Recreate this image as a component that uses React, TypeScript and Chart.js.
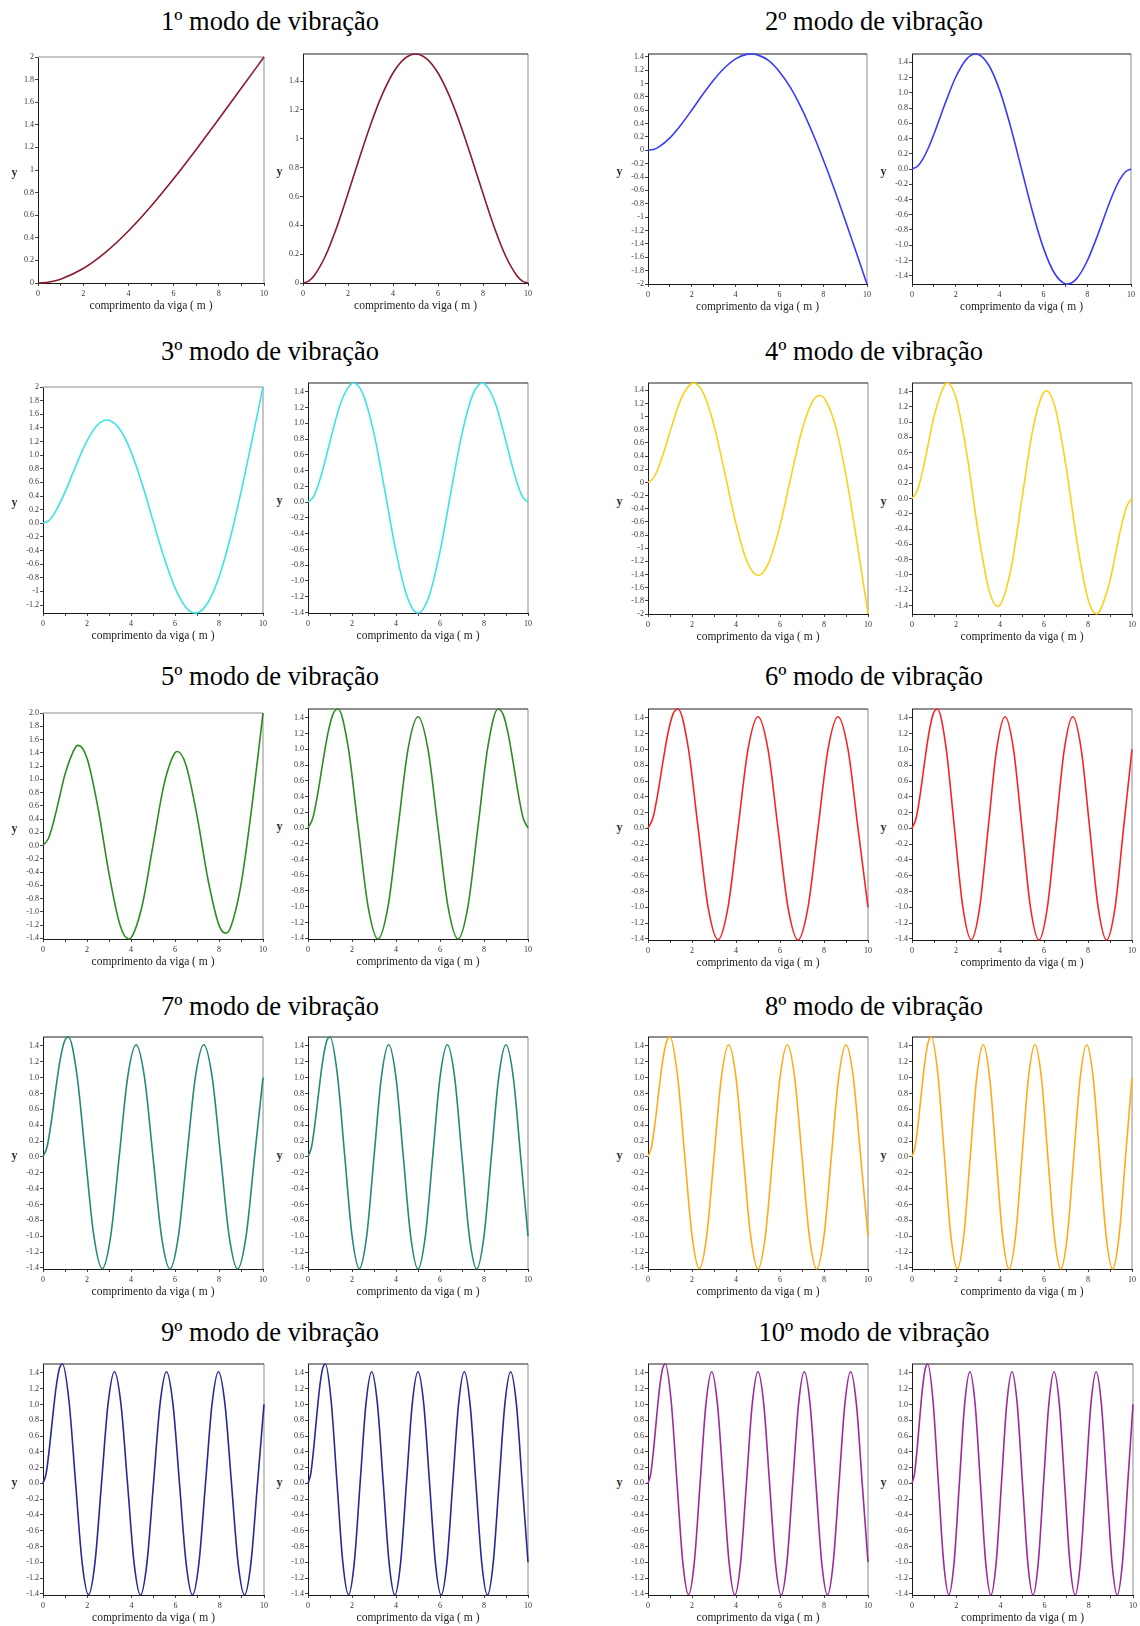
import React, { useEffect, useRef } from "react";
import { Chart, registerables } from "chart.js";

Chart.register(...registerables);

const SERIF = '"Liberation Serif", "Times New Roman", Times, serif';

// ---------------- data ----------------
const modeTitles = [
  "1º modo de vibração",
  "2º modo de vibração",
  "3º modo de vibração",
  "4º modo de vibração",
  "5º modo de vibração",
  "6º modo de vibração",
  "7º modo de vibração",
  "8º modo de vibração",
  "9º modo de vibração",
  "10º modo de vibração",
];

const xAxisTitle = "comprimento da viga ( m )";
const yAxisTitle = "y";

const xTickValues = [0, 1, 2, 3, 4, 5, 6, 7, 8, 9, 10];
const xTickLabels = ["0", "", "2", "", "4", "", "6", "", "8", "", "10"];

const yLabelsPlain0to2 = ["0", "0.2", "0.4", "0.6", "0.8", "1", "1.2", "1.4", "1.6", "1.8", "2"];
const yLabelsPlain0to14 = ["0", "0.2", "0.4", "0.6", "0.8", "1", "1.2", "1.4"];
const yLabelsPlainM2to14 = ["-2", "-1.8", "-1.6", "-1.4", "-1.2", "-1", "-0.8", "-0.6", "-0.4", "-0.2", "0", "0.2", "0.4", "0.6", "0.8", "1", "1.2", "1.4"];
const yLabelsFixedM14to14 = ["-1.4", "-1.2", "-1.0", "-0.8", "-0.6", "-0.4", "-0.2", "0.0", "0.2", "0.4", "0.6", "0.8", "1.0", "1.2", "1.4"];
const yLabelsMixedM12to2 = ["-1.2", "-1", "-0.8", "-0.6", "-0.4", "-0.2", "0.0", "0.2", "0.4", "0.6", "0.8", "1.0", "1.2", "1.4", "1.6", "1.8", "2"];
const yLabelsFixedM14to2 = ["-1.4", "-1.2", "-1.0", "-0.8", "-0.6", "-0.4", "-0.2", "0.0", "0.2", "0.4", "0.6", "0.8", "1.0", "1.2", "1.4", "1.6", "1.8", "2.0"];

// mode 1
const mode1LeftX = [0, 0.5, 1, 2, 3, 4, 5, 6, 7, 8, 9, 10];
const mode1LeftY = [0, 0.009, 0.034, 0.128, 0.273, 0.46, 0.679, 0.922, 1.182, 1.451, 1.725, 2.0];
const mode1RightX = [0, 0.25, 0.5, 1, 1.5, 2, 2.5, 3, 3.5, 4, 4.5, 5, 5.5, 6, 6.5, 7, 7.5, 8, 8.5, 9, 9.5, 9.75, 10];
const mode1RightY = [0, 0.013, 0.052, 0.189, 0.387, 0.62, 0.863, 1.096, 1.299, 1.456, 1.554, 1.588, 1.554, 1.456, 1.299, 1.096, 0.863, 0.62, 0.387, 0.189, 0.052, 0.013, 0];

// mode 2
const mode2LeftX = [0, 0.25, 0.5, 1, 1.5, 2, 2.5, 3, 3.5, 4, 4.5, 4.75, 5, 5.5, 6, 6.5, 7, 7.5, 8, 8.5, 9, 9.5, 9.75, 10];
const mode2LeftY = [0, 0.013, 0.051, 0.185, 0.378, 0.602, 0.834, 1.052, 1.235, 1.367, 1.434, 1.44, 1.427, 1.343, 1.175, 0.94, 0.633, 0.269, -0.137, -0.574, -1.043, -1.519, -1.761, -2.0];
const mode2RightX = [0, 0.25, 0.5, 0.75, 1, 1.5, 2, 2.5, 2.9, 3, 3.5, 4, 4.5, 5, 5.5, 6, 6.5, 7, 7.1, 7.5, 8, 8.5, 9, 9.25, 9.5, 9.75, 10];
const mode2RightY = [0, 0.036, 0.134, 0.279, 0.456, 0.849, 1.207, 1.445, 1.509, 1.506, 1.365, 1.035, 0.557, 0, -0.557, -1.035, -1.365, -1.506, -1.509, -1.445, -1.207, -0.849, -0.456, -0.279, -0.134, -0.036, 0];

// mode 3
const mode3LeftX = [0, 0.25, 0.5, 1, 1.5, 2, 2.5, 2.9, 3, 3.5, 4, 4.5, 5, 5.5, 6, 6.5, 6.9, 7, 7.5, 8, 8.5, 9, 9.5, 9.75, 10];
const mode3LeftY = [0, 0.036, 0.134, 0.456, 0.85, 1.209, 1.449, 1.516, 1.512, 1.376, 1.052, 0.583, 0.039, -0.499, -0.948, -1.236, -1.317, -1.315, -1.163, -0.79, -0.231, 0.458, 1.218, 1.608, 2.0];
const mode3RightX = [0, 0.25, 0.5, 0.75, 1, 1.5, 2, 2.07, 2.5, 3, 3.5, 4, 4.5, 5, 5.5, 6, 6.5, 7, 7.5, 7.93, 8, 8.5, 9, 9.25, 9.5, 9.75, 10];
const mode3RightY = [0, 0.069, 0.247, 0.494, 0.77, 1.268, 1.508, 1.512, 1.371, 0.869, 0.133, -0.628, -1.196, -1.406, -1.196, -0.628, 0.133, 0.869, 1.371, 1.512, 1.508, 1.268, 0.77, 0.494, 0.247, 0.069, 0];

// mode 4
const mode4LeftX = [0, 0.25, 0.5, 0.75, 1, 1.5, 2, 2.06, 2.5, 3, 3.5, 4, 4.5, 5, 5.5, 6, 6.5, 7, 7.5, 7.8, 8, 8.5, 9, 9.5, 9.75, 10];
const mode4LeftY = [0, 0.069, 0.247, 0.494, 0.77, 1.268, 1.508, 1.512, 1.371, 0.868, 0.132, -0.631, -1.201, -1.414, -1.211, -0.653, 0.09, 0.795, 1.243, 1.322, 1.286, 0.883, 0.104, -0.908, -1.449, -2.0];
const mode4RightX = [0, 0.25, 0.5, 0.75, 1, 1.5, 1.6, 2, 2.5, 3, 3.5, 3.89, 4, 4.5, 5, 5.5, 6, 6.11, 6.5, 7, 7.5, 8, 8.4, 8.5, 9, 9.25, 9.5, 9.75, 10];
const mode4RightY = [0, 0.11, 0.382, 0.729, 1.074, 1.495, 1.512, 1.319, 0.57, -0.423, -1.199, -1.41, -1.394, -0.917, 0, 0.917, 1.394, 1.41, 1.199, 0.423, -0.57, -1.319, -1.512, -1.495, -1.074, -0.729, -0.382, -0.11, 0];

// mode 5
const mode5LeftX = [0, 0.25, 0.5, 0.75, 1, 1.5, 1.6, 2, 2.5, 3, 3.5, 3.89, 4, 4.5, 5, 5.5, 6, 6.11, 6.5, 7, 7.5, 8, 8.3, 8.5, 9, 9.5, 9.75, 10];
const mode5LeftY = [0, 0.11, 0.382, 0.729, 1.075, 1.495, 1.512, 1.319, 0.57, -0.423, -1.199, -1.41, -1.393, -0.916, 0.002, 0.92, 1.4, 1.418, 1.213, 0.451, -0.512, -1.201, -1.322, -1.256, -0.589, 0.603, 1.293, 2.0];
const mode5RightX = [0, 0.227, 0.455, 0.682, 0.909, 1.136, 1.364, 1.818, 2.273, 2.727, 3.182, 3.636, 4.091, 4.545, 5, 5.455, 5.909, 6.364, 6.818, 7.273, 7.727, 8.182, 8.636, 8.864, 9.091, 9.318, 9.545, 9.773, 10];
const mode5RightY = [0, 0.134, 0.456, 0.849, 1.208, 1.447, 1.512, 1.043, 0.02, -0.991, -1.41, -1, 0, 1, 1.414, 1, 0, -1, -1.41, -0.991, 0.02, 1.043, 1.512, 1.447, 1.208, 0.849, 0.456, 0.134, 0];

// modes 6-10: sample positions along the beam and the wave values at them
const grid22X = [0, 0.227, 0.455, 0.682, 0.909, 1.136, 1.364, 1.818, 2.273, 2.727, 3.182, 3.636, 4.091, 4.545, 5, 5.455, 5.909, 6.364, 6.818, 7.273, 7.727, 8.182, 8.636, 9.091, 9.545, 10];
const grid26X = [0, 0.192, 0.385, 0.577, 0.769, 0.962, 1.154, 1.538, 1.923, 2.308, 2.692, 3.077, 3.462, 3.846, 4.231, 4.615, 5, 5.385, 5.769, 6.154, 6.538, 6.923, 7.308, 7.692, 8.077, 8.462, 8.846, 9.231, 9.615, 10];
const grid30X = [0, 0.167, 0.333, 0.5, 0.667, 0.833, 1, 1.333, 1.667, 2, 2.333, 2.667, 3, 3.333, 3.667, 4, 4.333, 4.667, 5, 5.333, 5.667, 6, 6.333, 6.667, 7, 7.333, 7.667, 8, 8.333, 8.667, 9, 9.333, 9.667, 10];
const grid34X = [0, 0.147, 0.294, 0.441, 0.588, 0.735, 0.882, 1.176, 1.471, 1.765, 2.059, 2.353, 2.647, 2.941, 3.235, 3.529, 3.824, 4.118, 4.412, 4.706, 5, 5.294, 5.588, 5.882, 6.176, 6.471, 6.765, 7.059, 7.353, 7.647, 7.941, 8.235, 8.529, 8.824, 9.118, 9.412, 9.706, 10];
const grid38X = [0, 0.132, 0.263, 0.395, 0.526, 0.658, 0.789, 1.053, 1.316, 1.579, 1.842, 2.105, 2.368, 2.632, 2.895, 3.158, 3.421, 3.684, 3.947, 4.211, 4.474, 4.737, 5, 5.263, 5.526, 5.789, 6.053, 6.316, 6.579, 6.842, 7.105, 7.368, 7.632, 7.895, 8.158, 8.421, 8.684, 8.947, 9.211, 9.474, 9.737, 10];
const grid42X = [0, 0.119, 0.238, 0.357, 0.476, 0.595, 0.714, 0.952, 1.19, 1.429, 1.667, 1.905, 2.143, 2.381, 2.619, 2.857, 3.095, 3.333, 3.571, 3.81, 4.048, 4.286, 4.524, 4.762, 5, 5.238, 5.476, 5.714, 5.952, 6.19, 6.429, 6.667, 6.905, 7.143, 7.381, 7.619, 7.857, 8.095, 8.333, 8.571, 8.81, 9.048, 9.286, 9.524, 9.762, 10];
const waveY = [
  0, 0.134, 0.456, 0.849, 1.208, 1.447, 1.512, 1.043, 0.02, -0.991, -1.41,
  -1, 0, 1, 1.414, 1, 0, -1, -1.414,
  -1, 0, 1, 1.414, 1, 0, -1, -1.414,
  -1, 0, 1, 1.414, 1, 0, -1, -1.414,
  -1, 0, 1, 1.414, 1, 0, -1, -1.414,
  -1, 0, 1,
];
const mode6LeftY = waveY.slice(0, grid22X.length);
const mode6RightY = waveY.slice(0, grid26X.length);
const mode7LeftY = waveY.slice(0, grid26X.length);
const mode7RightY = waveY.slice(0, grid30X.length);
const mode8LeftY = waveY.slice(0, grid30X.length);
const mode8RightY = waveY.slice(0, grid34X.length);
const mode9LeftY = waveY.slice(0, grid34X.length);
const mode9RightY = waveY.slice(0, grid38X.length);
const mode10LeftY = waveY.slice(0, grid38X.length);
const mode10RightY = waveY.slice(0, grid42X.length);

// ---------------- styles / layout ----------------
const modeColors = ["#8b1a2b", "#3a3aff", "#3de3e8", "#fcd01c", "#2e8b24", "#f52525", "#24897a", "#ffaa1a", "#262b94", "#9b2a9b"];

type Spec = {
  key: string;
  xs: number[];
  ys: number[];
  color: string;
  yLabels: string[];
  box: [number, number, number, number];
  topDark: boolean;
  yOff: number;
};

const specs: Spec[] = [
  { key: "1L", xs: mode1LeftX, ys: mode1LeftY, color: modeColors[0], yLabels: yLabelsPlain0to2, box: [38, 57, 226, 226], topDark: false, yOff: 23.5 },
  { key: "1R", xs: mode1RightX, ys: mode1RightY, color: modeColors[0], yLabels: yLabelsPlain0to14, box: [303, 54, 225, 229], topDark: true, yOff: 23.5 },
  { key: "2L", xs: mode2LeftX, ys: mode2LeftY, color: modeColors[1], yLabels: yLabelsPlainM2to14, box: [648, 54, 219, 230], topDark: true, yOff: 28.5 },
  { key: "2R", xs: mode2RightX, ys: mode2RightY, color: modeColors[1], yLabels: yLabelsFixedM14to14, box: [912, 54, 219, 230], topDark: true, yOff: 28.5 },
  { key: "3L", xs: mode3LeftX, ys: mode3LeftY, color: modeColors[2], yLabels: yLabelsMixedM12to2, box: [43, 387, 220, 226], topDark: false, yOff: 28.5 },
  { key: "3R", xs: mode3RightX, ys: mode3RightY, color: modeColors[2], yLabels: yLabelsFixedM14to14, box: [308, 383, 220, 230], topDark: true, yOff: 28.5 },
  { key: "4L", xs: mode4LeftX, ys: mode4LeftY, color: modeColors[3], yLabels: yLabelsPlainM2to14, box: [648, 383, 220, 231], topDark: true, yOff: 28.5 },
  { key: "4R", xs: mode4RightX, ys: mode4RightY, color: modeColors[3], yLabels: yLabelsFixedM14to14, box: [912, 383, 220, 231], topDark: true, yOff: 28.5 },
  { key: "5L", xs: mode5LeftX, ys: mode5LeftY, color: modeColors[4], yLabels: yLabelsFixedM14to2, box: [43, 713, 220, 226], topDark: false, yOff: 28.5 },
  { key: "5R", xs: mode5RightX, ys: mode5RightY, color: modeColors[4], yLabels: yLabelsFixedM14to14, box: [308, 709, 220, 230], topDark: true, yOff: 28.5 },
  { key: "6L", xs: grid22X, ys: mode6LeftY, color: modeColors[5], yLabels: yLabelsFixedM14to14, box: [648, 709, 220, 231], topDark: true, yOff: 28.5 },
  { key: "6R", xs: grid26X, ys: mode6RightY, color: modeColors[5], yLabels: yLabelsFixedM14to14, box: [912, 709, 220, 231], topDark: true, yOff: 28.5 },
  { key: "7L", xs: grid26X, ys: mode7LeftY, color: modeColors[6], yLabels: yLabelsFixedM14to14, box: [43, 1037, 220, 232], topDark: true, yOff: 28.5 },
  { key: "7R", xs: grid30X, ys: mode7RightY, color: modeColors[6], yLabels: yLabelsFixedM14to14, box: [308, 1037, 220, 232], topDark: true, yOff: 28.5 },
  { key: "8L", xs: grid30X, ys: mode8LeftY, color: modeColors[7], yLabels: yLabelsFixedM14to14, box: [648, 1037, 220, 232], topDark: true, yOff: 28.5 },
  { key: "8R", xs: grid34X, ys: mode8RightY, color: modeColors[7], yLabels: yLabelsFixedM14to14, box: [912, 1037, 220, 232], topDark: true, yOff: 28.5 },
  { key: "9L", xs: grid34X, ys: mode9LeftY, color: modeColors[8], yLabels: yLabelsFixedM14to14, box: [43, 1364, 221, 231], topDark: true, yOff: 28.5 },
  { key: "9R", xs: grid38X, ys: mode9RightY, color: modeColors[8], yLabels: yLabelsFixedM14to14, box: [308, 1364, 220, 231], topDark: true, yOff: 28.5 },
  { key: "10L", xs: grid38X, ys: mode10LeftY, color: modeColors[9], yLabels: yLabelsFixedM14to14, box: [648, 1364, 220, 231], topDark: true, yOff: 28.5 },
  { key: "10R", xs: grid42X, ys: mode10RightY, color: modeColors[9], yLabels: yLabelsFixedM14to14, box: [912, 1364, 221, 231], topDark: true, yOff: 28.5 },
];

const titleCentersX = [270, 874];
const titleCentersY = [21, 350.6, 676, 1006, 1332];

const PAD_L = 24;
const PAD_T = 8;
const PAD_R = 10;
const PAD_B = 32;

const framePlugin = {
  id: "frame",
  beforeDatasetsDraw(chart: any, _args: any, opts: any) {
    const { ctx, chartArea: a } = chart;
    ctx.save();
    ctx.lineWidth = 1.5;
    ctx.strokeStyle = "#b2b2b2";
    ctx.beginPath();
    ctx.moveTo(a.right, a.top);
    ctx.lineTo(a.right, a.bottom);
    ctx.stroke();
    ctx.strokeStyle = opts && opts.topDark ? "#222222" : "#b2b2b2";
    ctx.lineWidth = opts && opts.topDark ? 1.2 : 1.5;
    ctx.beginPath();
    ctx.moveTo(a.left, a.top);
    ctx.lineTo(a.right, a.top);
    ctx.stroke();
    ctx.restore();
  },
};

function Plot({ spec }: { spec: Spec }) {
  const ref = useRef<HTMLCanvasElement | null>(null);
  const [left, top, w, h] = spec.box;
  const cw = w + PAD_L + PAD_R;
  const ch = h + PAD_T + PAD_B;

  useEffect(() => {
    const canvas = ref.current;
    if (!canvas) return;
    const yTickValues = spec.yLabels.map(Number);
    const points = spec.xs.map((x, i) => ({ x, y: spec.ys[i] }));
    const chart = new Chart(canvas, {
      type: "line",
      data: {
        datasets: [
          {
            data: points,
            borderColor: spec.color,
            borderWidth: 1.6,
            pointRadius: 0,
            fill: false,
            cubicInterpolationMode: "monotone",
            clip: false as any,
          },
        ],
      },
      options: {
        animation: false,
        responsive: false,
        devicePixelRatio: 1,
        events: [],
        layout: { padding: { top: PAD_T, right: PAD_R, left: 0, bottom: 0 } },
        plugins: {
          legend: { display: false },
          tooltip: { enabled: false },
          frame: { topDark: spec.topDark },
        } as any,
        scales: {
          x: {
            type: "linear",
            min: 0,
            max: 10,
            afterBuildTicks: (s: any) => {
              s.ticks = xTickValues.map((v) => ({ value: v }));
            },
            afterFit: (s: any) => {
              s.height = PAD_B;
            },
            grid: { drawOnChartArea: false, drawTicks: true, tickLength: 3, tickColor: "#444", tickWidth: 1 },
            border: { display: true, color: "#1a1a1a", width: 1 },
            ticks: {
              autoSkip: false,
              maxRotation: 0,
              padding: 3,
              color: "#333",
              font: { family: SERIF, size: 8 },
              callback: (_v: any, i: number) => xTickLabels[i],
            },
            title: {
              display: true,
              text: xAxisTitle,
              color: "#222",
              font: { family: SERIF, size: 11.5 },
              padding: { top: 0, bottom: 2 },
            },
          },
          y: {
            type: "linear",
            min: Math.min(...spec.ys),
            max: Math.max(...spec.ys),
            afterBuildTicks: (s: any) => {
              s.ticks = yTickValues.map((v) => ({ value: v }));
            },
            afterFit: (s: any) => {
              s.width = PAD_L;
            },
            grid: { drawOnChartArea: false, drawTicks: true, tickLength: 3, tickColor: "#444", tickWidth: 1 },
            border: { display: true, color: "#1a1a1a", width: 1 },
            ticks: {
              autoSkip: false,
              padding: 1,
              color: "#333",
              font: { family: SERIF, size: 8 },
              callback: (_v: any, i: number) => spec.yLabels[i],
            },
          },
        },
      } as any,
      plugins: [framePlugin as any],
    });
    return () => chart.destroy();
  }, [spec]);

  return (
    <>
      <canvas
        ref={ref}
        width={cw}
        height={ch}
        style={{ position: "absolute", left: left - PAD_L, top: top - PAD_T, width: cw, height: ch }}
      />
      <span
        style={{
          position: "absolute",
          left: left - spec.yOff,
          top: top + h / 2 + 2,
          transform: "translate(-50%, -50%)",
          fontFamily: SERIF,
          fontWeight: "bold",
          fontSize: 12,
          lineHeight: "12px",
          color: "#333",
        }}
      >
        {yAxisTitle}
      </span>
    </>
  );
}

export default function App() {
  return (
    <div
      style={{
        position: "absolute",
        left: 0,
        top: 0,
        width: 1140,
        height: 1626,
        background: "#ffffff",
        overflow: "hidden",
      }}
    >
      {modeTitles.map((t, i) => (
        <div
          key={t}
          style={{
            position: "absolute",
            left: titleCentersX[i % 2],
            top: titleCentersY[Math.floor(i / 2)],
            transform: "translate(-50%, -50%)",
            fontFamily: SERIF,
            fontSize: 26.5,
            lineHeight: "27px",
            whiteSpace: "nowrap",
            color: "#000",
          }}
        >
          {t}
        </div>
      ))}
      {specs.map((s) => (
        <Plot key={s.key} spec={s} />
      ))}
    </div>
  );
}
